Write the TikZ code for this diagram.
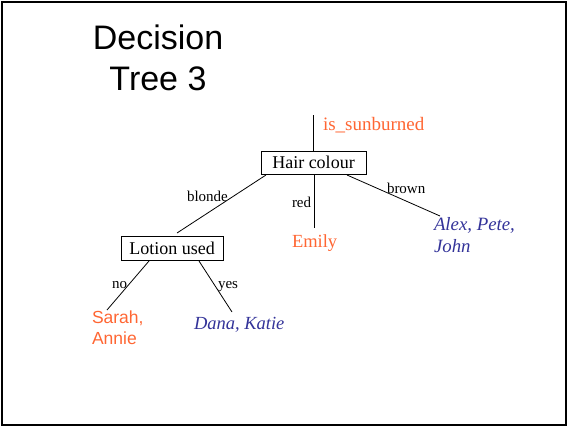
\documentclass[tikz,border=0pt]{standalone}
\usepackage{fontspec}
\setmainfont{Liberation Serif}
\newfontfamily\arialfont{Liberation Sans}
\definecolor{orng}{RGB}{255,102,51}
\definecolor{blu}{RGB}{51,51,153}
\begin{document}
\begin{tikzpicture}[x=1pt,y=-1pt,
  every node/.style={inner sep=0pt,outer sep=0pt},
  boxnode/.style={draw,line width=0.8pt,minimum width=105pt,minimum height=23pt,inner sep=0pt,font=\fontsize{18}{21}\selectfont},
  edgelbl/.style={anchor=base west,font=\fontsize{15}{17}\selectfont},
  leaf/.style={anchor=base west,font=\fontsize{18.5}{21}\selectfont,align=left},
  conn/.style={line width=0.8pt}]
\useasboundingbox (0,0) rectangle (568,428);
\draw[line width=2pt] (2,2) rectangle (566,425);
% title
\node[anchor=base,font=\arialfont\fontsize{34}{41}\selectfont] (t1) at (158,50) {Decision};
\node[anchor=base,font=\arialfont\fontsize{34}{41}\selectfont] (t2) at (158,91) {Tree 3};
% root label
\node[leaf,text=orng,font=\fontsize{19}{22}\selectfont] (target) at (323,130) {is\_sunburned};
% boxes
\node[boxnode] (hair) at (313.5,162.5) {Hair colour};
\node[boxnode,minimum width=102pt,minimum height=24pt] (lotion) at (172,248) {Lotion used};
\coordinate (rootend) at (hair.north |- 0,115);
% leaves (base anchor of multi-line nodes sits on the last line)
\node[leaf,text=orng] (emily) at (292,247) {Emily};
\node[leaf,text=blu,font=\itshape\fontsize{18.8}{22}\selectfont] (alex) at (434,252) {Alex, Pete,\\John};
\node[leaf,text=orng,font=\arialfont\fontsize{17.5}{20.5}\selectfont] (sarah) at (92,344) {Sarah,\\Annie};
\node[leaf,text=blu,font=\itshape\fontsize{18.5}{21}\selectfont] (dana) at (194,329) {Dana, Katie};
% connector end points
\coordinate (hb1) at (266,175);
\coordinate (lt1) at (177,233);
\coordinate (hb2) at (314,175);
\coordinate (em1) at (314,228);
\coordinate (hb3) at (347,175);
\coordinate (al1) at (440,216);
\coordinate (lb1) at (149,261);
\coordinate (sa1) at (107,310);
\coordinate (lb2) at (199,261);
\coordinate (da1) at (232,312);
% connectors
\draw[conn] (rootend) -- (hair.north);
\draw[conn] (hb1) -- (lt1);
\draw[conn] (hb2) -- (em1);
\draw[conn] (hb3) -- (al1);
\draw[conn] (lb1) -- (sa1);
\draw[conn] (lb2) -- (da1);
% edge labels
\node[edgelbl] (lblonde) at (187,201) {blonde};
\node[edgelbl] (lred) at (292,207) {red};
\node[edgelbl] (lbrown) at (387,193) {brown};
\node[edgelbl] (lno) at (112,288) {no};
\node[edgelbl] (lyes) at (218,288) {yes};
\end{tikzpicture}
\end{document}
